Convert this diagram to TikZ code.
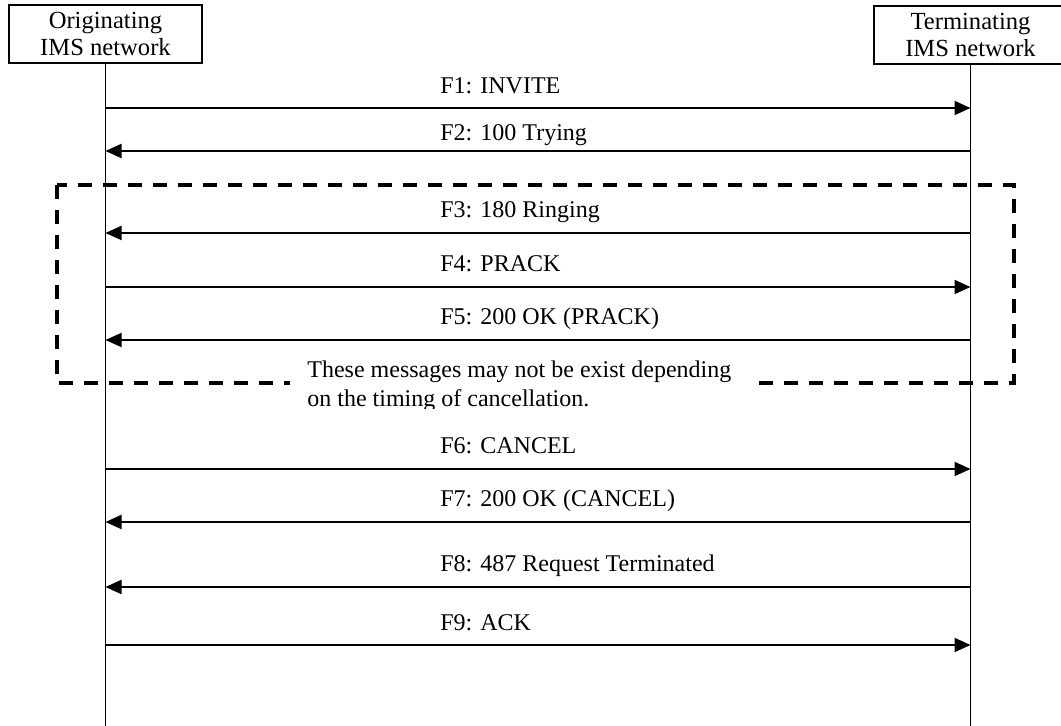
\documentclass[tikz,border=0pt]{standalone}
\usepackage{fontspec}
\setmainfont{Liberation Serif}
\usetikzlibrary{arrows.meta}

\begin{document}
\begin{tikzpicture}[x=0.5pt,y=-0.5pt,
  head/.style={draw,line width=0.65pt,minimum width=96.5pt,minimum height=29pt,
               inner sep=0pt,align=center,font=\fontsize{12.3}{13.5}\selectfont},
  life/.style={line width=0.65pt},
  msg/.style={-{Triangle[length=8pt,width=7pt]},line width=1pt},
  lbl/.style={anchor=base west,inner sep=0pt,font=\fontsize{12}{14}\selectfont},
  grp/.style={dash pattern=on 7pt off 5.5pt,line width=1.6pt},
  note/.style={anchor=base west,inner sep=0pt,align=left,
               font=\fontsize{12}{14.5}\selectfont}
]
\useasboundingbox (0,0) rectangle (1061,726);

\node[head] (orig) at (105.5,34) {Originating\\IMS network};
\node[head] (term) at (970.5,35) {Terminating\\IMS network};

\coordinate (obot) at (orig |- 0,726);
\coordinate (tbot) at (term |- 0,726);
\draw[life] (orig.south) -- (obot);
\draw[life] (term.south) -- (tbot);

\coordinate (o1) at (orig |- 0,108); \coordinate (t1) at (term |- 0,108);
\coordinate (o2) at (orig |- 0,151); \coordinate (t2) at (term |- 0,151);
\coordinate (o3) at (orig |- 0,233); \coordinate (t3) at (term |- 0,233);
\coordinate (o4) at (orig |- 0,287); \coordinate (t4) at (term |- 0,287);
\coordinate (o5) at (orig |- 0,340); \coordinate (t5) at (term |- 0,340);
\coordinate (o6) at (orig |- 0,469); \coordinate (t6) at (term |- 0,469);
\coordinate (o7) at (orig |- 0,522); \coordinate (t7) at (term |- 0,522);
\coordinate (o8) at (orig |- 0,587); \coordinate (t8) at (term |- 0,587);
\coordinate (o9) at (orig |- 0,645); \coordinate (t9) at (term |- 0,645);

\draw[msg] (o1)--(t1); \draw[msg] (t2)--(o2);
\draw[msg] (t3)--(o3); \draw[msg] (o4)--(t4); \draw[msg] (t5)--(o5);
\draw[msg] (o6)--(t6); \draw[msg] (t7)--(o7);
\draw[msg] (t8)--(o8); \draw[msg] (o9)--(t9);

\node[lbl] (l1) at (440,94) {F1: INVITE};
\node[lbl] (l2) at (440,141) {F2: 100 Trying};
\node[lbl] (l3) at (440,218) {F3: 180 Ringing};
\node[lbl] (l4) at (440,272) {F4: PRACK};
\node[lbl] (l5) at (440,325) {F5: 200 OK (PRACK)};
\node[lbl] (l6) at (440,454) {F6: CANCEL};
\node[lbl] (l7) at (440,507) {F7: 200 OK (CANCEL)};
\node[lbl] (l8) at (440,572) {F8: 487 Request Terminated};
\node[lbl] (l9) at (440,631) {F9: ACK};

\draw[grp] (57,185) rectangle (1014,383);
\begin{scope}
  \clip (290,350) rectangle (750,409);
  \fill[white] (290,350) rectangle (750,409);
  \node[note] (cmt) at (307,407) {These messages may not be exist depending\\on the timing of cancellation.};
\end{scope}
\end{tikzpicture}
\end{document}
